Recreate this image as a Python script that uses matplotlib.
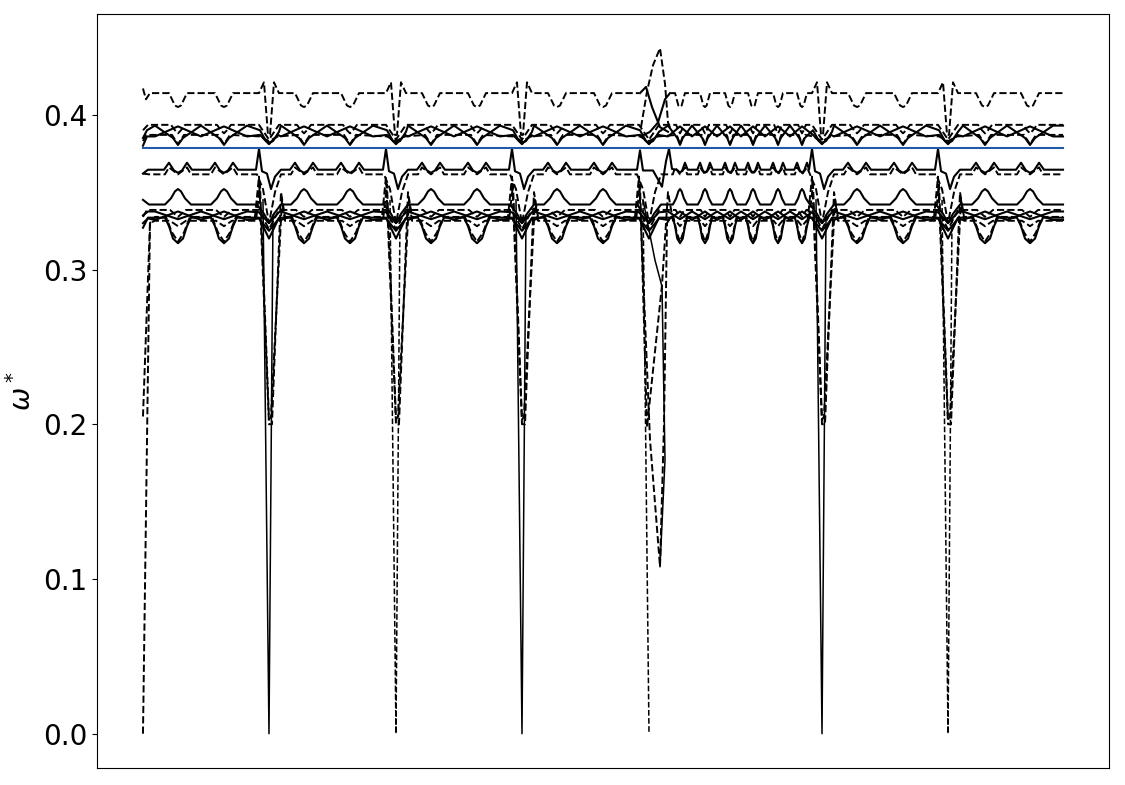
import numpy as np
import matplotlib
matplotlib.use("Agg")
import matplotlib.pyplot as plt

# path coordinate (arbitrary units) and omega* values
SEG_START = [0, 126, 253, 379, 506, 679, 805]
SEG_END = [126, 253, 379, 506, 679, 805, 920]
SEG_SCALE = [1.0, 1.0, 1.0, 1.0, 0.55, 1.0, 1.0]
DIPS = [[35, 81], [161, 207], [288, 334], [414, 460],
        [537, 562, 587, 610, 635, 659], [714, 760], [842, 887]]
MIDS = [[12, 58, 104], [138, 184, 230], [265, 311, 357], [391, 437, 483],
        [525, 549, 574, 598, 622, 647, 671], [691, 737, 783], [820, 864, 910]]
NAN = np.nan
ODD = 3  # inner boundary (0-based) with the irregular crossing

# band: top dashed
T_BASE = 0.414
T_DIP_DX = [-9, -6, -3, 0, 3, 6, 9]
T_DIP_V = [0.414, 0.410, 0.406, 0.405, 0.406, 0.410, 0.414]
T_EDGE_DX = [-10, -5, -1, 1, 5, 10]
T_EDGE_V = [0.414, 0.421, 0.387, 0.387, 0.421, 0.414]
T_START = ([0, 3, 7], [0.417, 0.410, 0.414])
T_OVER = {ODD: ([-10, -9, 22], [0.414, NAN, 0.414])}

D1_BASE = 0.3935
D1_DIP_DX = [-7, -3, 0, 3, 7]
D1_DIP_V = [0.3935, 0.390, 0.388, 0.390, 0.3935]
D1_EDGE_DX = [-10, 0, 10]
D1_EDGE_V = [0.3935, 0.384, 0.3935]
D1_START = ([0, 5], [0.390, 0.3935])

S1_BASE = 0.393
S1_DIP_DX = [-5, 0, 5]
S1_DIP_V = [0.385, 0.3805, 0.385]
S1_MID = 0.393
S1_EDGE_DX = [-9, -3, 0, 4, 10]
S1_EDGE_V = [0.390, 0.383, 0.382, 0.383, 0.389]
S1_START = ([0, 4], [0.385, 0.390])

S2_BASE = 0.386
S2_DIP_DX = [0]
S2_DIP_V = [0.3925]
S2_MID = 0.386
S2_EDGE_DX = [-9, 0, 9]
S2_EDGE_V = [0.387, 0.381, 0.387]
S2_START = ([0, 4], [0.380, 0.386])

D2_BASE = 0.387
D2_DIP_DX = [-6, 0, 6]
D2_DIP_V = [0.387, 0.381, 0.387]
D2_EDGE_DX = [-9, 0, 9]
D2_EDGE_V = [0.386, 0.383, 0.386]
D2_START = ([0, 3], [0.383, 0.387])

BLUE_V = 0.3787

S3_BASE = 0.3645
S3_DIP_DX = [-14, -9, -4, 0, 4, 9, 14]
S3_DIP_V = [0.3645, 0.369, 0.364, 0.3625, 0.364, 0.369, 0.3645]
S3_EDGE_DX = [-13, -10, -7, -2, 2, 6, 12]
S3_EDGE_V = [0.3645, 0.378, 0.3635, 0.362, 0.352, 0.360, 0.3645]
S3_START = ([0, 5], [0.362, 0.3645])
S3_OVER = {ODD: ([-12, -9, -6, 4, 13, 17, 20, 23, 27],
                 [0.3645, 0.377, 0.364, 0.364, 0.3535, 0.370, 0.378, 0.365, 0.3645])}

D3_BASE = 0.3615
D3_DIP_DX = [-13, -9, 0, 9, 13]
D3_DIP_V = [0.3615, 0.366, 0.3615, 0.366, 0.3615]
D3_EDGE_DX = [-12, -6, 0, 6, 12]
D3_EDGE_V = [0.3615, 0.352, 0.330, 0.350, 0.3615]
D3_START = ([0, 6], [0.362, 0.3615])

S4_BASE = 0.342
S4_DIP_DX = [-13, -7, -3, 0, 3, 7, 13]
S4_DIP_V = [0.342, 0.346, 0.3505, 0.352, 0.3505, 0.346, 0.342]
S4_EDGE_DX = [-12, -5, 0, 5, 12]
S4_EDGE_V = [0.342, 0.336, 0.330, 0.336, 0.342]
S4_START = ([0, 6], [0.345, 0.342])

D4_BASE = 0.3385
D4_DIP_DX = [-8, 0, 8]
D4_DIP_V = [0.3385, 0.334, 0.3385]
D4_EDGE_DX = [-10, 0, 10]
D4_EDGE_V = [0.3385, 0.326, 0.3385]
D4_START = ([0, 4], [0.334, 0.3385])

S5_BASE = 0.332
S5_DIP_DX = [0]
S5_DIP_V = [0.3375]
S5_MID = 0.332
S5_EDGE_DX = [-10, 0, 10]
S5_EDGE_V = [0.333, 0.325, 0.333]
S5_START = ([0, 5], [0.330, 0.333])

S6_BASE = 0.3375
S6_DIP_DX = [0]
S6_DIP_V = [0.3325]
S6_MID = 0.3375
S6_EDGE_DX = [-10, 0, 10]
S6_EDGE_V = [0.337, 0.330, 0.337]
S6_START = ([0, 5], [0.335, 0.3375])

S7_BASE = 0.3335
S7_DIP_DX = [-13, -9, -5, 0, 5, 9, 13]
S7_DIP_V = [0.3335, 0.328, 0.320, 0.317, 0.320, 0.328, 0.3335]
S7_EDGE_DX = [-10, 0, 10]
S7_EDGE_V = [0.3335, 0.320, 0.3335]
S7_START = ([0, 5], [0.327, 0.3335])

D5_BASE = 0.334
D5_DIP_DX = [-12, -6, 0, 6, 12]
D5_DIP_V = [0.334, 0.324, 0.318, 0.324, 0.334]
D5_EDGE_DX = [-14, -10, 0, 3, 12, 16]
D5_EDGE_V = [0.334, 0.360, 0.200, 0.200, 0.350, 0.334]
D5_START = ([0, 7, 12], [0.0, 0.330, 0.334])
D5_OVER = {ODD: ([-14, -10, 1, 11, 15, 18, 22],
                 [0.334, 0.360, 0.190, 0.108, 0.200, 0.330, 0.334])}

D6_BASE = 0.3315
D6_DIP_DX = [-8, 0, 8]
D6_DIP_V = [0.3315, 0.328, 0.3315]
D6_EDGE_DX = [-13, -9, 0, 2, 13, 16]
D6_EDGE_V = [0.3315, 0.355, 0.203, 0.205, 0.345, 0.3315]
D6_START = ([0, 7, 12], [0.205, 0.330, 0.3315])
D6_OVER = {ODD: ([-13, -9, -2, 13, 19, 24],
                 [0.3315, 0.355, 0.198, 0.290, 0.350, 0.3315])}

# narrow dives to zero at each inner boundary
Z_STYLE = ['-', '--', '-', '--', '-', '--']
Z_DX = [-6, 0, 4]
Z_V = [0.345, 0.0, 0.335]

# irregular crossing near the fifth boundary
LENS_X = [498, 504, 510, 517, 522, 525, 528]
LENS_V = [0.392, 0.415, 0.432, 0.443, 0.420, 0.395, 0.390]
CROSS1_X = [497, 503, 509, 517, 525]
CROSS1_V = [0.414, 0.418, 0.405, 0.392, 0.389]
CROSS2_X = [498, 507, 515, 522, 527]
CROSS2_V = [0.386, 0.389, 0.395, 0.410, 0.414]
DROP_X = [500, 512, 519, 522, 517]
DROP_V = [0.345, 0.306, 0.289, 0.177, 0.108]


def build(base, dip_dx, dip_v, edge_dx, edge_v, start, mid=None, over=None):
    over = over or {}
    pts, windows = [], []
    for i, b in enumerate(SEG_START[1:]):
        dx, v = over.get(i, (edge_dx, edge_v))
        windows.append((b + min(dx), b + max(dx)))
        pts += [(b + d, y) for d, y in zip(dx, v)]
    pts += list(zip(*start))
    windows.append((0, max(start[0])))
    pts.append((SEG_END[-1], base))
    for k in range(len(SEG_START)):
        s = SEG_SCALE[k]
        feats = [(d + s * dd, y) for d in DIPS[k] for dd, y in zip(dip_dx, dip_v)]
        if mid is not None:
            feats += [(m, mid) for m in MIDS[k]]
        pts += [p for p in feats
                if not any(a - 1 <= p[0] <= b + 1 for a, b in windows)]
    pts.sort(key=lambda p: p[0])
    x, y = zip(*pts)
    return x, y


fig = plt.figure(figsize=(11.25, 7.85), dpi=100)
ax = fig.add_axes([0.0862, 0.0217, 0.8996, 0.9605])

kw_d = dict(color='k', ls='--', lw=1.4)
kw_s = dict(color='k', ls='-', lw=1.5)

ax.plot(*build(T_BASE, T_DIP_DX, T_DIP_V, T_EDGE_DX, T_EDGE_V, T_START, over=T_OVER), **kw_d)
ax.plot(*build(D1_BASE, D1_DIP_DX, D1_DIP_V, D1_EDGE_DX, D1_EDGE_V, D1_START), **kw_d)
ax.plot(*build(S1_BASE, S1_DIP_DX, S1_DIP_V, S1_EDGE_DX, S1_EDGE_V, S1_START, mid=S1_MID), **kw_s)
ax.plot(*build(S2_BASE, S2_DIP_DX, S2_DIP_V, S2_EDGE_DX, S2_EDGE_V, S2_START, mid=S2_MID), **kw_s)
ax.plot(*build(D2_BASE, D2_DIP_DX, D2_DIP_V, D2_EDGE_DX, D2_EDGE_V, D2_START), **kw_d)
ax.plot(*build(S3_BASE, S3_DIP_DX, S3_DIP_V, S3_EDGE_DX, S3_EDGE_V, S3_START, over=S3_OVER), **kw_s)
ax.plot(*build(D3_BASE, D3_DIP_DX, D3_DIP_V, D3_EDGE_DX, D3_EDGE_V, D3_START), **kw_d)
ax.plot(*build(S4_BASE, S4_DIP_DX, S4_DIP_V, S4_EDGE_DX, S4_EDGE_V, S4_START), **kw_s)
ax.plot(*build(D4_BASE, D4_DIP_DX, D4_DIP_V, D4_EDGE_DX, D4_EDGE_V, D4_START), **kw_d)
ax.plot(*build(S5_BASE, S5_DIP_DX, S5_DIP_V, S5_EDGE_DX, S5_EDGE_V, S5_START, mid=S5_MID), **kw_s)
ax.plot(*build(S6_BASE, S6_DIP_DX, S6_DIP_V, S6_EDGE_DX, S6_EDGE_V, S6_START, mid=S6_MID), **kw_s)
ax.plot(*build(S7_BASE, S7_DIP_DX, S7_DIP_V, S7_EDGE_DX, S7_EDGE_V, S7_START), **kw_s)
ax.plot(*build(D5_BASE, D5_DIP_DX, D5_DIP_V, D5_EDGE_DX, D5_EDGE_V, D5_START, over=D5_OVER), **kw_d)
ax.plot(*build(D6_BASE, D6_DIP_DX, D6_DIP_V, D6_EDGE_DX, D6_EDGE_V, D6_START, over=D6_OVER), **kw_d)

for i, (b, st) in enumerate(zip(SEG_START[1:], Z_STYLE)):
    dx, v = (Z_DX[:2], Z_V[:2]) if i == ODD else (Z_DX, Z_V)
    ax.plot([b + d for d in dx], v, color='k', ls=st, lw=1.1)

ax.plot(LENS_X, LENS_V, **kw_d)
ax.plot(CROSS1_X, CROSS1_V, **kw_s)
ax.plot(CROSS2_X, CROSS2_V, **kw_s)
ax.plot(DROP_X, DROP_V, color='k', lw=1.1)

ax.plot([SEG_START[0], SEG_END[-1]], [BLUE_V, BLUE_V], color='#1f5aa6', lw=1.5)

ax.set_xticks([])
ax.set_yticks([0.0, 0.1, 0.2, 0.3, 0.4])
ax.tick_params(axis='y', labelsize=20)
ax.set_ylabel(r'$\omega^*$', fontsize=20)

fig.savefig('out.png', dpi=100)
